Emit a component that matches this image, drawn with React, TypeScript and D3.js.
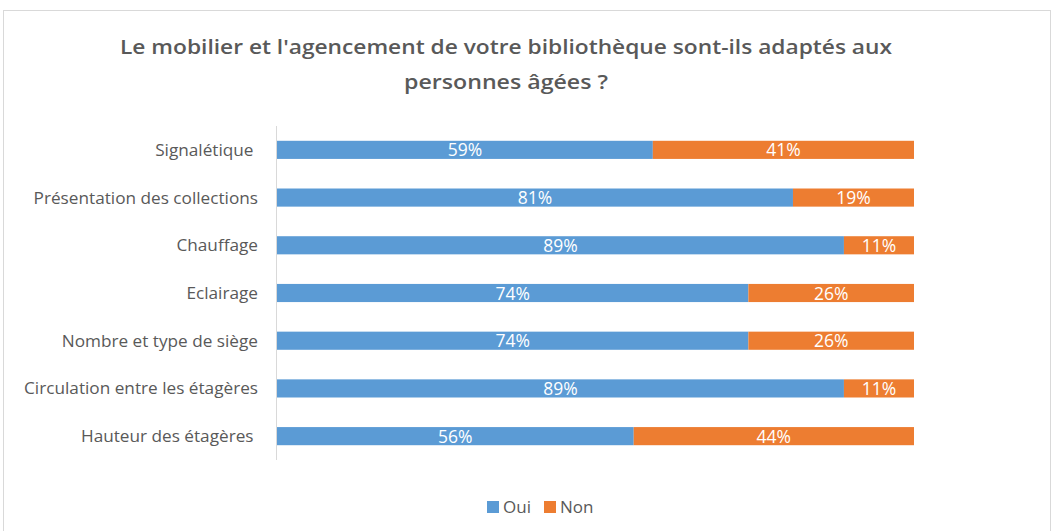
import React, { useEffect, useRef } from "react";
import * as d3 from "d3";

const categories = [
  "Signalétique ",
  "Présentation des collections",
  "Chauffage",
  "Eclairage",
  "Nombre et type de siège",
  "Circulation entre les étagères",
  "Hauteur des étagères ",
];
const oui = [59, 81, 89, 74, 74, 89, 56];
const non = [41, 19, 11, 26, 26, 11, 44];
const seriesNames = ["Oui", "Non"];
const seriesColors = ["#5B9BD5", "#ED7D31"];
const titleLines = [
  "Le mobilier et l'agencement de votre bibliothèque sont-ils adaptés aux",
  "personnes âgées ?",
];

export default function App() {
  const ref = useRef<SVGSVGElement>(null);
  useEffect(() => {
    const svg = d3.select(ref.current);
    svg.selectAll("*").remove();
    const font = "Open Sans, sans-serif";

    svg.append("rect").attr("x", 3.5).attr("y", 10.5).attr("width", 1047).attr("height", 530)
      .attr("fill", "#fff").attr("stroke", "#d9d9d9");

    svg.selectAll("text.title").data(titleLines).enter().append("text")
      .attr("class", "title")
      .attr("x", 506).attr("y", (d, i) => 54 + i * 35)
      .attr("text-anchor", "middle")
      .attr("font-family", font).attr("font-weight", 600).attr("font-size", 20)
      .attr("fill", "#595959")
      .attr("textLength", (d, i) => (i === 0 ? 772 : 204))
      .attr("lengthAdjust", "spacingAndGlyphs")
      .text((d) => d);

    const x = d3.scaleLinear().domain([0, 100]).range([277, 914]);
    const y = d3.scaleBand().domain(categories).range([126, 460]).paddingInner(0.62).paddingOuter(0.31);

    const stackData = categories.map((c, i) => ({ cat: c, Oui: oui[i], Non: non[i] }));
    const stacked = d3.stack<any>().keys(seriesNames)(stackData);

    const g = svg.append("g");
    stacked.forEach((s, si) => {
      g.selectAll(`rect.s${si}`).data(s).enter().append("rect")
        .attr("x", (d) => x(d[0]))
        .attr("y", (d) => y(d.data.cat)!)
        .attr("width", (d) => x(d[1]) - x(d[0]))
        .attr("height", y.bandwidth())
        .attr("fill", seriesColors[si]);
      g.selectAll(`text.s${si}`).data(s).enter().append("text")
        .attr("x", (d) => (x(d[0]) + x(d[1])) / 2)
        .attr("y", (d) => y(d.data.cat)! + y.bandwidth() / 2 + 6.5)
        .attr("text-anchor", "middle")
        .attr("font-family", font).attr("font-size", 17.5)
        .attr("fill", "#fff")
        .text((d) => `${d[1] - d[0]}%`);
    });

    svg.append("line").attr("x1", 276.5).attr("x2", 276.5).attr("y1", 126).attr("y2", 460)
      .attr("stroke", "#d9d9d9");

    svg.selectAll("text.cat").data(categories).enter().append("text")
      .attr("x", 258).attr("y", (d) => y(d)! + y.bandwidth() / 2 + 6)
      .attr("text-anchor", "end")
      .attr("font-family", font).attr("font-size", 17.2)
      .attr("fill", "#595959")
      .style("white-space", "pre")
      .text((d) => d);

    const leg = svg.append("g");
    const legX = [487, 544];
    seriesNames.forEach((n, i) => {
      leg.append("rect").attr("x", legX[i]).attr("y", 501).attr("width", 12).attr("height", 12)
        .attr("fill", seriesColors[i]);
      leg.append("text").attr("x", legX[i] + 16).attr("y", 513)
        .attr("font-family", font).attr("font-size", 17).attr("fill", "#595959").text(n);
    });
  }, []);
  return (
    <svg ref={ref} width={1053} height={531}
      style={{ position: "absolute", left: 0, top: 0, background: "#fff" }} />
  );
}
